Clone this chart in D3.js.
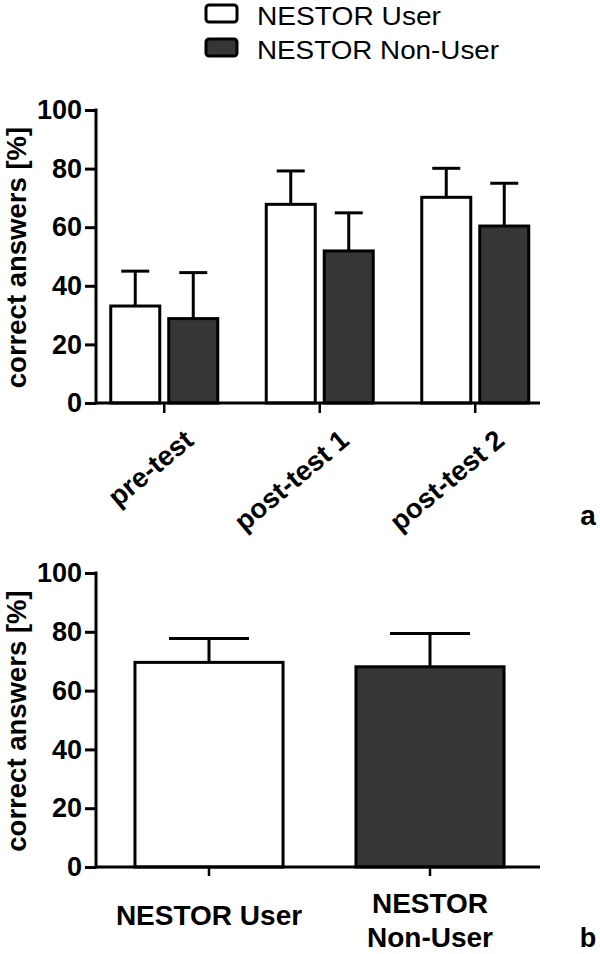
<!DOCTYPE html>
<html>
<head>
<meta charset="utf-8">
<script src="https://cdn.jsdelivr.net/npm/d3@7"></script>
<style>
  html, body { margin: 0; padding: 0; background: #fff; }
  svg { display: block; }
  text { font-family: "Liberation Sans", Arial, sans-serif; fill: #000; }
</style>
</head>
<body>
<svg id="chart" width="600" height="954"></svg>
<script>
// ---- data ----
const series = ["NESTOR User", "NESTOR Non-User"];
const phases = ["pre-test", "post-test 1", "post-test 2"];
const userMean = [33.1, 67.8, 70.2];
const userSD = [11.9, 11.4, 9.9];
const nonUserMean = [28.8, 51.9, 60.4];
const nonUserSD = [15.7, 13.0, 14.6];
const groupsB = ["NESTOR User", "NESTOR Non-User"];
const meanB = [69.6, 68.1];
const sdB = [8.1, 11.3];
const yTicks = [0, 20, 40, 60, 80, 100];
const fills = ["#ffffff", "#363636"];

const svg = d3.select("#chart");
const SW = 3;

// ---- legend ----
const legend = svg.append("g");
series.forEach((s, i) => {
  const ly = 5 + i * 34;
  legend.append("rect").attr("x", 206).attr("y", ly).attr("width", 31).attr("height", 17)
    .attr("rx", 3).attr("fill", fills[i]).attr("stroke", "#000").attr("stroke-width", SW);
  legend.append("text").attr("x", 257).attr("y", ly + 19.5).attr("font-size", 26.5)
    .attr("textLength", 184).attr("lengthAdjust", "spacingAndGlyphs")
    .text(s).attr("textLength", i === 0 ? 184 : 242);
});

function yAxis(g, y, left, y0) {
  g.append("line").attr("x1", left).attr("x2", left).attr("y1", y(100) - 1.5).attr("y2", y0)
    .attr("stroke", "#000").attr("stroke-width", SW);
  const ax = d3.axisLeft(y).tickValues(yTicks).tickSize(11).tickPadding(3);
  const a = g.append("g").attr("transform", `translate(${left},0)`).call(ax);
  a.select(".domain").remove();
  a.selectAll(".tick line").attr("stroke", "#000").attr("stroke-width", SW);
  a.selectAll(".tick text").attr("font-size", 27).attr("font-weight", "bold")
    .attr("font-family", "'Liberation Sans', Arial, sans-serif").attr("fill", "#000");
  g.append("text")
    .attr("transform", `translate(26,${(y(0) + y(100)) / 2 + 1}) rotate(-90)`)
    .attr("text-anchor", "middle").attr("font-size", 27.5).attr("font-weight", "bold")
    .text("correct answers [%]");
}

function errBar(g, cx, yTop, yVal, capW) {
  g.append("line").attr("x1", cx).attr("x2", cx).attr("y1", yTop).attr("y2", yVal)
    .attr("stroke", "#000").attr("stroke-width", SW);
  g.append("line").attr("x1", cx - capW / 2).attr("x2", cx + capW / 2).attr("y1", yTop).attr("y2", yTop)
    .attr("stroke", "#000").attr("stroke-width", SW);
}

// ---- panel a ----
{
  const g = svg.append("g");
  const y = d3.scaleLinear().domain([0, 100]).range([403, 110]);
  const x = d3.scaleBand().domain(phases).range([86.5, 553]).padding(0);
  const xi = d3.scaleBand().domain(series).range([-53.5, 53.5]).paddingInner(0.155);
  const left = 96, right = 540;
  const vals = [userMean, nonUserMean], sds = [userSD, nonUserSD];
  series.forEach((s, si) => {
    phases.forEach((p, pi) => {
      const cx = x(p) + x.bandwidth() / 2 + xi(s) + xi.bandwidth() / 2;
      errBar(g, cx, y(vals[si][pi] + sds[si][pi]), y(vals[si][pi]), 28);
      g.append("rect")
        .attr("x", x(p) + x.bandwidth() / 2 + xi(s))
        .attr("y", y(vals[si][pi]))
        .attr("width", xi.bandwidth())
        .attr("height", y(0) - y(vals[si][pi]))
        .attr("fill", fills[si]).attr("stroke", "#000").attr("stroke-width", SW);
    });
  });
  yAxis(g, y, left, y(0) + 1.5);
  g.append("line").attr("x1", left).attr("x2", right).attr("y1", y(0)).attr("y2", y(0))
    .attr("stroke", "#000").attr("stroke-width", SW);
  phases.forEach(p => {
    const cx = x(p) + x.bandwidth() / 2;
    g.append("line").attr("x1", cx).attr("x2", cx).attr("y1", y(0)).attr("y2", y(0) + 10)
      .attr("stroke", "#000").attr("stroke-width", 2.5);
    g.append("text")
      .attr("transform", `translate(${cx + 31},${y(0) + 40}) rotate(-40)`)
      .attr("text-anchor", "end").attr("font-size", 27.5).attr("font-weight", "bold").text(p);
  });
  g.append("text").attr("x", 588).attr("y", 525).attr("text-anchor", "middle")
    .attr("font-size", 28).attr("font-weight", "bold").text("a");
}

// ---- panel b ----
{
  const g = svg.append("g");
  const y = d3.scaleLinear().domain([0, 100]).range([867, 573]);
  const x = d3.scaleBand().domain(groupsB).range([98.5, 540.5]).padding(0);
  const left = 96, right = 540;
  groupsB.forEach((c, i) => {
    const cx = x(c) + x.bandwidth() / 2;
    const w = x.bandwidth() * 0.67;
    errBar(g, cx, y(meanB[i] + sdB[i]), y(meanB[i]), 80);
    g.append("rect").attr("x", cx - w / 2).attr("y", y(meanB[i])).attr("width", w)
      .attr("height", y(0) - y(meanB[i]))
      .attr("fill", fills[i]).attr("stroke", "#000").attr("stroke-width", SW);
  });
  yAxis(g, y, left, y(0) + 1.5);
  g.append("line").attr("x1", left).attr("x2", right).attr("y1", y(0)).attr("y2", y(0))
    .attr("stroke", "#000").attr("stroke-width", SW);
  groupsB.forEach((c, i) => {
    const cx = x(c) + x.bandwidth() / 2;
    g.append("line").attr("x1", cx).attr("x2", cx).attr("y1", y(0)).attr("y2", y(0) + 9)
      .attr("stroke", "#000").attr("stroke-width", 2.5);
    const t = g.append("text").attr("text-anchor", "middle").attr("font-size", 28).attr("font-weight", "bold");
    if (i === 0) {
      t.attr("x", cx).attr("y", 925).text(c);
    } else {
      const parts = c.split(" ");
      t.append("tspan").attr("x", cx).attr("y", 913).text(parts[0]);
      t.append("tspan").attr("x", cx).attr("y", 947).text(parts[1]);
    }
  });
  g.append("text").attr("x", 588).attr("y", 947).attr("text-anchor", "middle")
    .attr("font-size", 27).attr("font-weight", "bold").text("b");
}
</script>
</body>
</html>
